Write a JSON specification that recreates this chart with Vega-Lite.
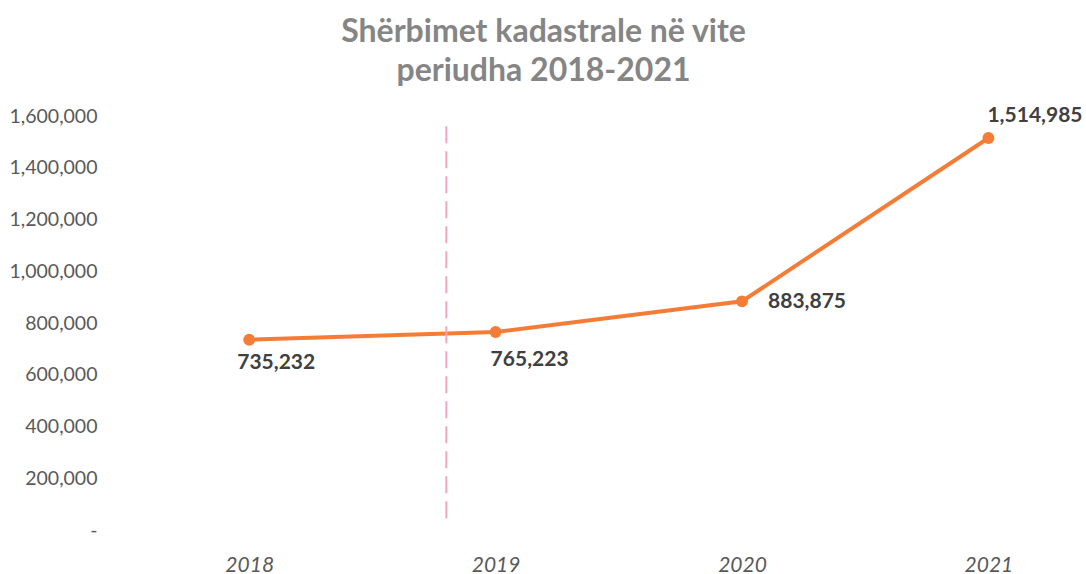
{
  "$schema": "https://vega.github.io/schema/vega-lite/v6.json",
  "width": 961,
  "height": 414,
  "autosize": "none",
  "padding": {"left": 126, "top": 116, "right": 0, "bottom": 44},
  "background": "white",
  "config": {"view": {"stroke": null}, "font": "Lato"},
  "title": {
    "text": ["Shërbimet kadastrale në vite", "periudha 2018-2021"],
    "fontSize": 32,
    "font": "Lato",
    "fontWeight": "bold",
    "color": "#858585",
    "lineHeight": 39,
    "anchor": "middle",
    "frame": "group",
    "dx": -63,
    "offset": 17
  },
  "datasets": {
    "series": [
      {"year": 2018, "value": 735232},
      {"year": 2019, "value": 765223},
      {"year": 2020, "value": 883875},
      {"year": 2021, "value": 1514985}
    ],
    "marker": [
      {"year": 2018.8, "top": 1560000, "bottom": 30000}
    ]
  },
  "layer": [
    {
      "data": {"name": "series"},
      "mark": {"type": "line", "color": "#F47C36", "strokeWidth": 4},
      "encoding": {
        "x": {
          "field": "year",
          "type": "quantitative",
          "scale": {"domain": [2017.5, 2021.4], "nice": false, "zero": false},
          "axis": {
            "title": null,
            "values": [2018, 2019, 2020, 2021],
            "format": "d",
            "domain": false,
            "ticks": false,
            "grid": false,
            "labelFontSize": 21,
            "labelFontStyle": "italic",
            "labelColor": "#595959",
            "labelPadding": 24,
            "labelFont": "Lato"
          }
        },
        "y": {
          "field": "value",
          "type": "quantitative",
          "scale": {"domain": [0, 1600000], "nice": false},
          "axis": {
            "title": null,
            "values": [0, 200000, 400000, 600000, 800000, 1000000, 1200000, 1400000, 1600000],
            "labelExpr": "datum.value == 0 ? '-\u00a0\u00a0\u00a0' : format(datum.value, ',')",
            "domain": false,
            "ticks": false,
            "grid": false,
            "labelFontSize": 19.5,
            "labelColor": "#595959",
            "labelPadding": 29,
            "labelFont": "Lato"
          }
        }
      }
    },
    {
      "data": {"name": "series"},
      "mark": {"type": "point", "filled": true, "color": "#F47C36", "size": 140, "opacity": 1},
      "encoding": {
        "x": {"field": "year", "type": "quantitative"},
        "y": {"field": "value", "type": "quantitative"}
      }
    },
    {
      "data": {"name": "marker"},
      "mark": {"type": "rule", "color": "#F4A4C4", "strokeWidth": 2, "strokeDash": [17, 8]},
      "encoding": {
        "x": {"field": "year", "type": "quantitative"},
        "y": {"field": "top", "type": "quantitative"},
        "y2": {"field": "bottom"}
      }
    },
    {
      "data": {"name": "series"},
      "transform": [{"filter": "datum.year == 2018"}],
      "mark": {"type": "text", "font": "Lato", "fontWeight": "bold", "fontSize": 21, "color": "#404040", "align": "left", "baseline": "middle", "dx": -12, "dy": 23},
      "encoding": {
        "x": {"field": "year", "type": "quantitative"},
        "y": {"field": "value", "type": "quantitative"},
        "text": {"field": "value", "type": "quantitative", "format": ","}
      }
    },
    {
      "data": {"name": "series"},
      "transform": [{"filter": "datum.year == 2019"}],
      "mark": {"type": "text", "font": "Lato", "fontWeight": "bold", "fontSize": 21, "color": "#404040", "align": "left", "baseline": "middle", "dx": -5, "dy": 28},
      "encoding": {
        "x": {"field": "year", "type": "quantitative"},
        "y": {"field": "value", "type": "quantitative"},
        "text": {"field": "value", "type": "quantitative", "format": ","}
      }
    },
    {
      "data": {"name": "series"},
      "transform": [{"filter": "datum.year == 2020"}],
      "mark": {"type": "text", "font": "Lato", "fontWeight": "bold", "fontSize": 21, "color": "#404040", "align": "left", "baseline": "middle", "dx": 26, "dy": 1},
      "encoding": {
        "x": {"field": "year", "type": "quantitative"},
        "y": {"field": "value", "type": "quantitative"},
        "text": {"field": "value", "type": "quantitative", "format": ","}
      }
    },
    {
      "data": {"name": "series"},
      "transform": [{"filter": "datum.year == 2021"}],
      "mark": {"type": "text", "font": "Lato", "fontWeight": "bold", "fontSize": 21, "color": "#404040", "align": "left", "baseline": "middle", "dx": -1, "dy": -22},
      "encoding": {
        "x": {"field": "year", "type": "quantitative"},
        "y": {"field": "value", "type": "quantitative"},
        "text": {"field": "value", "type": "quantitative", "format": ","}
      }
    }
  ]
}
